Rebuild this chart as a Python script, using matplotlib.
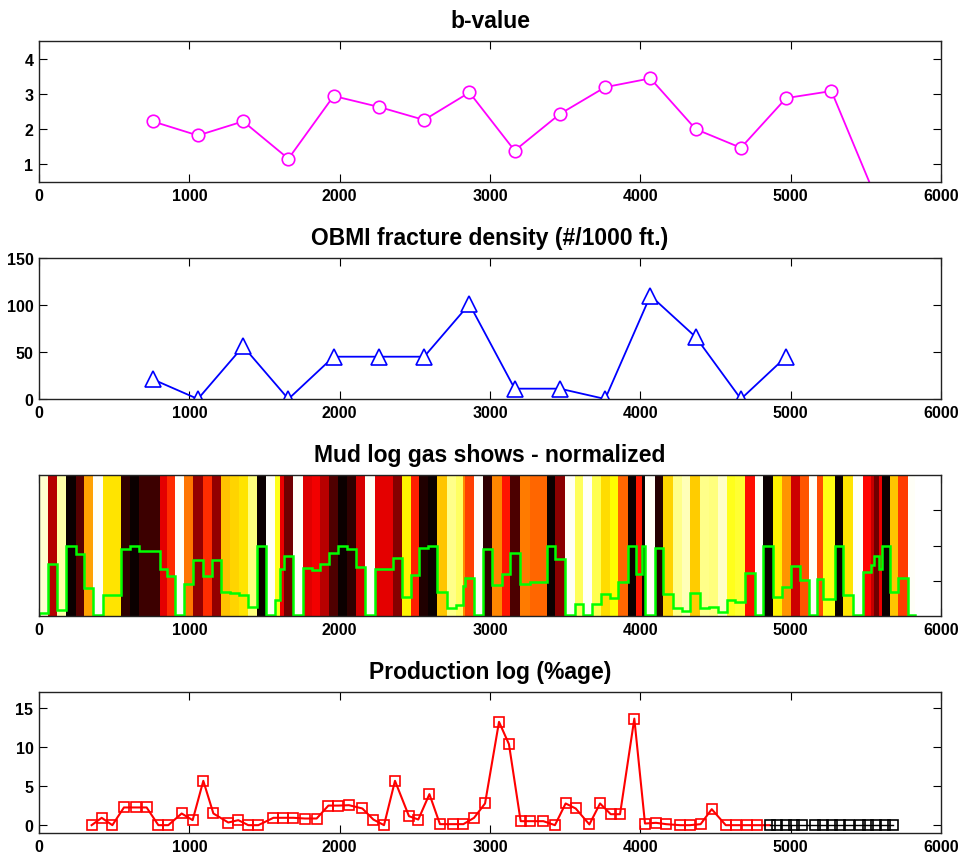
import numpy as np
import matplotlib
matplotlib.use('Agg')
import matplotlib.pyplot as plt

plt.rcParams['font.family'] = ['Liberation Sans', 'DejaVu Sans']
plt.rcParams['font.weight'] = 'bold'

# b-value
b_depth = [756, 1057, 1358, 1659, 1960, 2261, 2562, 2863, 3164, 3465, 3766, 4067, 4368, 4669, 4970, 5271, 5572]
b_value = [2.22, 1.82, 2.22, 1.16, 2.94, 2.63, 2.26, 3.04, 1.39, 2.43, 3.19, 3.44, 2.0, 1.47, 2.88, 3.08, 0.0]

# OBMI fracture density
frac_depth = [756, 1057, 1358, 1659, 1960, 2261, 2562, 2863, 3164, 3465, 3766, 4067, 4368, 4669, 4970]
frac_density = [21, 0, 56, 0, 45, 45, 45, 101, 11, 11, 0, 110, 66, 0, 45]

# mud log gas shows (interval edges and values)
mud_edges = [0, 62, 122, 180, 244, 302, 361, 424, 484, 543, 605, 667, 736, 805, 849, 905,
             965, 1027, 1089, 1149, 1208, 1271, 1330, 1392, 1448, 1510, 1570, 1603, 1630,
             1692, 1754, 1814, 1869, 1929, 1991, 2047, 2109, 2168, 2235, 2294, 2353, 2412,
             2475, 2530, 2590, 2650, 2712, 2774, 2818, 2834, 2894, 2956, 3016, 3078, 3133,
             3200, 3266, 3320, 3377, 3432, 3499, 3565, 3621, 3681, 3736, 3798, 3854, 3916,
             3971, 4009, 4031, 4098, 4153, 4215, 4275, 4330, 4397, 4459, 4519, 4574, 4630,
             4696, 4763, 4818, 4880, 4940, 5000, 5062, 5124, 5173, 5217, 5295, 5350, 5417,
             5483, 5532, 5554, 5590, 5605, 5661, 5716, 5783, 5827]
mud_gas = [0.024, 0.372, 0.043, 0.5, 0.443, 0.197, 0.005, 0.147, 0.147, 0.472,
           0.5, 0.462, 0.462, 0.336, 0.284, 0.005, 0.23, 0.398, 0.284, 0.398,
           0.173, 0.16, 0.147, 0.066, 0.5, 0.005, 0.114, 0.332, 0.422, 0.005,
           0.341, 0.327, 0.37, 0.448, 0.5, 0.472, 0.346, 0.005, 0.336, 0.336,
           0.408, 0.135, 0.294, 0.483, 0.5, 0.171, 0.06, 0.08, 0.213, 0.27,
           0.005, 0.472, 0.218, 0.301, 0.45, 0.225, 0.242, 0.242, 0.5, 0.403,
           0.005, 0.083, 0.005, 0.088, 0.154, 0.13, 0.242, 0.5, 0.30, 0.5,
           0.005, 0.479, 0.159, 0.059, 0.036, 0.166, 0.059, 0.066, 0.028, 0.114,
           0.102, 0.308, 0.005, 0.5, 0.137, 0.206, 0.355, 0.254, 0.005, 0.261,
           0.118, 0.5, 0.147, 0.005, 0.313, 0.36, 0.422, 0.332, 0.5, 0.171,
           0.273, 0.005]

# production log
prod_depth = [350, 417, 488, 565, 645, 716, 794, 860, 949, 1022,
              1093, 1160, 1259, 1326, 1392, 1459, 1559, 1625, 1692, 1769,
              1847, 1925, 1991, 2062, 2151, 2224, 2295, 2368, 2461, 2523,
              2597, 2667, 2756, 2823, 2894, 2967, 3060, 3126, 3204, 3266,
              3355, 3432, 3503, 3570, 3661, 3732, 3803, 3865, 3960, 4031,
              4104, 4171, 4264, 4330, 4401, 4475, 4568, 4636, 4707, 4774]
prod_pct = [0, 0.94, 0, 2.26, 2.26, 2.26, 0, 0, 1.49, 0.64,
            5.66, 1.49, 0.34, 0.64, 0, 0, 0.94, 0.94, 0.94, 0.85,
            0.85, 2.5, 2.5, 2.55, 2.13, 0.72, 0, 5.66, 1.15, 0.72,
            3.96, 0.13, 0.13, 0.13, 0.94, 2.77, 13.19, 10.34, 0.51, 0.51,
            0.51, 0, 2.77, 2.13, 0.09, 2.77, 1.4, 1.4, 13.6, 0.21,
            0.3, 0.13, 0, 0, 0.13, 2.04, 0, 0, 0, 0]
noprod_depth = [4861, 4911, 4967, 5022, 5078, 5164, 5217, 5273, 5328, 5386,
                5460, 5515, 5570, 5626, 5681]
noprod_pct = [0] * len(noprod_depth)

W, H = 963, 854
fig = plt.figure(figsize=(W / 100, H / 100), dpi=100)

def make_ax(top_px):
    ax = fig.add_axes([39 / W, 1 - (top_px + 141) / H, 902 / W, 141 / H])
    ax.set_xlim(0, 6000)
    ax.set_xticks(range(0, 6001, 1000))
    ax.tick_params(direction='in', top=True, right=True, length=6, width=0.8,
                   labelsize=11.5, pad=4)
    for s in ax.spines.values():
        s.set_linewidth(1.0)
        s.set_color('#222222')
    return ax

tkw = dict(fontsize=16.5, fontweight='bold', pad=10)

ax1 = make_ax(42)
ax1.plot(b_depth, b_value, '-o', color='magenta', lw=1.3, ms=9, mfc='white', mew=1.2)
ax1.set_ylim(0.5, 4.5)
ax1.set_yticks([1, 2, 3, 4])
ax1.set_title('b-value', **tkw)

ax2 = make_ax(259)
ax2.plot(frac_depth, frac_density, '-^', color='blue', lw=1.3, ms=11, mfc='white', mew=1.2)
ax2.set_ylim(0, 150)
ax2.set_yticks([0, 50, 100, 150])
ax2.set_title('OBMI fracture density (#/1000 ft.)', **tkw)

ax3 = make_ax(476)
gas = np.array(mud_gas)
shade = 1 - gas / gas.max()
ax3.pcolormesh(mud_edges, [0, 1], shade[np.newaxis, :], cmap='hot', vmin=0, vmax=1)
ax3.stairs(gas, mud_edges, color='#00ff00', lw=1.8)
ax3.set_ylim(0, 1)
ax3.set_yticks([0.25, 0.5, 0.75])
ax3.set_yticklabels([])
ax3.set_axisbelow(True)
ax3.set_title('Mud log gas shows - normalized', **tkw)

ax4 = make_ax(693)
ax4.plot(prod_depth + noprod_depth[:1], prod_pct + noprod_pct[:1], '-', color='red', lw=1.5)
ax4.plot(prod_depth, prod_pct, 's', color='red', ms=7, mfc='none', mew=1.2)
ax4.plot(noprod_depth, noprod_pct, '-s', color='black', lw=1, ms=7, mfc='none', mew=1.2)
ax4.set_ylim(-1, 17)
ax4.set_yticks([0, 5, 10, 15])
ax4.set_title('Production log (%age)', **tkw)

fig.savefig('out.png', dpi=100)
